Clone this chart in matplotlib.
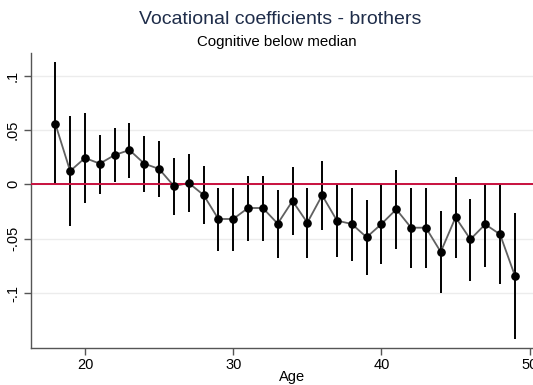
import matplotlib.pyplot as plt
import numpy as np

plt.rcParams['font.family'] = ['Liberation Sans', 'DejaVu Sans']

# coefficients by age, with 95% CI
ages = np.arange(18, 50)
coef = np.array([0.0557, 0.0122, 0.0242, 0.0190, 0.0269, 0.0315, 0.0190, 0.0141,
                 -0.0016, 0.0012, -0.0098, -0.0319, -0.0319, -0.0218, -0.0218, -0.0362,
                 -0.0153, -0.0353, -0.0101, -0.0334, -0.0365, -0.0487, -0.0365, -0.0230,
                 -0.0399, -0.0399, -0.0622, -0.0304, -0.0506, -0.0368, -0.0460, -0.0840])
ci_hi = np.array([0.1121, 0.0625, 0.0652, 0.0456, 0.0520, 0.0563, 0.0441, 0.0401,
                  0.0245, 0.0276, 0.0171, -0.0031, -0.0031, 0.0076, 0.0079, -0.0055,
                  0.0156, -0.0037, 0.0214, 0.0000, -0.0031, -0.0147, 0.0000, 0.0131,
                  -0.0037, -0.0031, -0.0248, 0.0064, -0.0132, 0.0000, 0.0000, -0.0261])
ci_lo = np.array([0.0000, -0.0383, -0.0169, -0.0086, 0.0024, 0.0061, -0.0068, -0.0119,
                  -0.0279, -0.0255, -0.0368, -0.0610, -0.0613, -0.0518, -0.0518, -0.0675,
                  -0.0463, -0.0675, -0.0420, -0.0668, -0.0705, -0.0837, -0.0730, -0.0592,
                  -0.0767, -0.0767, -0.0996, -0.0677, -0.0889, -0.0757, -0.0919, -0.1425])

yticks = [-0.1, -0.05, 0, 0.05, 0.1]
ytick_labels = ['-.1', '-.05', '0', '.05', '.1']
xticks = [20, 30, 40, 50]

W, H = 533, 385
fig = plt.figure(figsize=(W / 100, H / 100), dpi=100, facecolor='white')
ax = fig.add_axes([31 / W, 1 - 348 / H, 523 / W, 295 / H])

ax.set_xlim(16.36, 51.64)
ax.set_ylim(-0.1505, 0.1207)

for y in yticks:
    ax.axhline(y, color='#ececec', lw=1.0, zorder=0)

ax.vlines(ages, ci_lo, ci_hi, color='black', lw=1.4, zorder=2)
ax.plot(ages, coef, color='#606060', lw=1.3, zorder=3)
ax.axhline(0, color='#c8103e', lw=1.4, zorder=4)
ax.plot(ages, coef, 'o', color='black', ms=5.2, zorder=5)

ax.set_yticks(yticks)
ax.set_yticklabels(ytick_labels, rotation=90, va='center')
ax.set_xticks(xticks)
ax.tick_params(axis='both', labelsize=10.5, length=5, width=1, color='#555555', pad=3)
ax.tick_params(axis='x', pad=2)

for side in ['top', 'right']:
    ax.spines[side].set_visible(False)
for side in ['left', 'bottom']:
    ax.spines[side].set_color('#555555')
    ax.spines[side].set_linewidth(1.0)

ax.set_xlabel('Age', fontsize=10.5, labelpad=-1)

fig.text(280.5 / W, 1 - 20 / H, 'Vocational coefficients - brothers',
         ha='center', va='center', fontsize=14, color='#1f2d4a')
fig.text(277 / W, 1 - 42 / H, 'Cognitive below median',
         ha='center', va='center', fontsize=10.8, color='black')

fig.savefig('out.png', dpi=100, facecolor='white')
